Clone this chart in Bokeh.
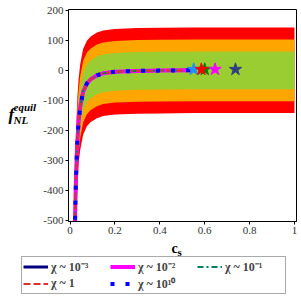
from bokeh.plotting import figure
from bokeh.models import Range1d, FixedTicker, Label, Legend, LegendItem
from bokeh.layouts import row, column
from bokeh.embed import file_html
from bokeh.resources import INLINE

# ---- data ----
cs = [0.015, 0.018, 0.022, 0.025, 0.029, 0.033, 0.038, 0.045, 0.058, 0.075,
      0.092, 0.12, 0.147, 0.2, 0.3, 0.4, 0.55, 0.7, 1.0]
fnl = [-1100, -770, -510, -400, -300, -228, -172, -124, -72, -44,
       -30, -17, -10, -5, -2, -1, 0, 0, 0]
curve_end = 0.55
band_half = [143, 103, 63]
band_colors = ["#FF0000", "#FFA500", "#9ACD32"]
cs_star = [0.551, 0.60, 0.585, 0.646, 0.737]
f_star = [3, 3, 3, 3, 3]
star_colors = ["#1E90FF", "#008000", "#FF0000", "#FF00FF", "#2F3F80"]
x_ticks = [0, 0.2, 0.4, 0.6, 0.8, 1]
x_tick_labels = ["0", "0.2", "0.4", "0.6", "0.8", "1"]
y_ticks = [200, 100, 0, -100, -200, -300, -400, -500]
y_tick_labels = ["200", "100", "0", "-100", "-200", "-300", "-400", "-500"]
series_labels = ["χ ~ 10⁻³", "χ ~ 10⁻²", "χ ~ 10⁻¹", "χ ~ 1", "χ ~ 10¹⁰"]
series_colors = ["#000080", "#FF00FF", "#008060", "#E03030", "#0000FF"]
series_widths = [3, 4, 2, 2, 4]
series_dash = ["solid", "solid", "6 3 2 3", "7 3", "4 11"]

SERIF = "Liberation Serif"

# ---------------- main plot ----------------
p = figure(width=261, height=240, output_backend="svg", toolbar_location=None,
           x_range=Range1d(-0.007, 1.009), y_range=Range1d(-505, 203),
           min_border_left=25, min_border_right=5, min_border_top=9,
           min_border_bottom=19)
p.grid.visible = False
p.outline_line_color = "black"
p.outline_line_width = 1

for h, col in zip(band_half, band_colors):
    p.varea(x=cs, y1=[v - h for v in fnl], y2=[v + h for v in fnl],
            fill_color=col, fill_alpha=1.0)

xc = [c for c in cs if c <= curve_end]
yc = [v for c, v in zip(cs, fnl) if c <= curve_end]
for i in range(5):
    p.line(xc, yc, line_color=series_colors[i], line_width=series_widths[i],
           line_dash=series_dash[i])

p.scatter(cs_star, f_star, marker="star", size=13, fill_color=star_colors,
          line_color=star_colors)

for ax in (p.xaxis[0], p.yaxis[0]):
    ax.axis_line_color = "black"
    ax.major_tick_line_color = "black"
    ax.major_tick_out = 3
    ax.major_tick_in = 0
    ax.minor_tick_out = 0
    ax.minor_tick_in = 0
    ax.major_label_text_font = SERIF
    ax.major_label_text_font_size = "11px"
    ax.major_label_text_color = "#333333"
    ax.major_label_standoff = 2
p.xaxis[0].ticker = FixedTicker(ticks=x_ticks)
p.xaxis[0].major_label_overrides = dict(zip(x_ticks, x_tick_labels))
p.yaxis[0].ticker = FixedTicker(ticks=y_ticks)
p.yaxis[0].major_label_overrides = dict(zip(y_ticks, y_tick_labels))

# ---------------- y label panel ----------------
lf = figure(width=40, height=240, output_backend="svg", toolbar_location=None,
            x_range=Range1d(0, 40), y_range=Range1d(240, 0),
            x_axis_type=None, y_axis_type=None,
            min_border_left=0, min_border_right=0, min_border_top=0,
            min_border_bottom=0)
lf.grid.visible = False
lf.outline_line_color = None

def lab(fig, x, y, t, size, style="bold italic"):
    fig.add_layout(Label(x=x, y=y, text=t, text_font=SERIF,
                         text_font_size=size, text_font_style=style,
                         text_color="black", text_baseline="alphabetic"))

lab(lf, 8, 119, "f", "17px")
lab(lf, 13, 110, "equil", "11px")
lab(lf, 13, 125, "NL", "11px")

# ---------------- bottom panel (x label + legend) ----------------
bf = figure(width=301, height=61, output_backend="svg", toolbar_location=None,
            x_range=Range1d(0, 301), y_range=Range1d(61, 0),
            x_axis_type=None, y_axis_type=None,
            min_border_left=0, min_border_right=0, min_border_top=0,
            min_border_bottom=0)
bf.grid.visible = False
bf.outline_line_color = None
# series re-drawn on a range that keeps them out of view: only their legend shows
bf.extra_y_ranges = {"hidden": Range1d(5000, 6000)}
bf.extra_x_ranges = {"hidden": Range1d(5000, 6000)}

lab(bf, 171, 8, "c", "14px", "bold")
lab(bf, 177, 11, "s", "11px", "bold")

items = []
for i in range(5):
    r = bf.line(xc, yc, line_color=series_colors[i], line_width=series_widths[i],
                line_dash=series_dash[i], x_range_name="hidden",
                y_range_name="hidden")
    items.append(LegendItem(label=series_labels[i], renderers=[r]))

legend = Legend(items=items, location=(21, 7), orientation="horizontal", ncols=3)
legend.label_text_font = SERIF
legend.label_text_font_size = "12px"
legend.label_text_font_style = "bold"
legend.glyph_width = 25
legend.glyph_height = 13
legend.label_height = 13
legend.label_width = 59
legend.label_standoff = 3
legend.spacing = 0
legend.padding = 1
legend.margin = 0
legend.border_line_color = "#555555"
legend.border_line_width = 1
legend.background_fill_alpha = 1.0
bf.add_layout(legend, "center")

layout = column(row(lf, p), bf)
open("out.html", "w").write(file_html(layout, INLINE))
